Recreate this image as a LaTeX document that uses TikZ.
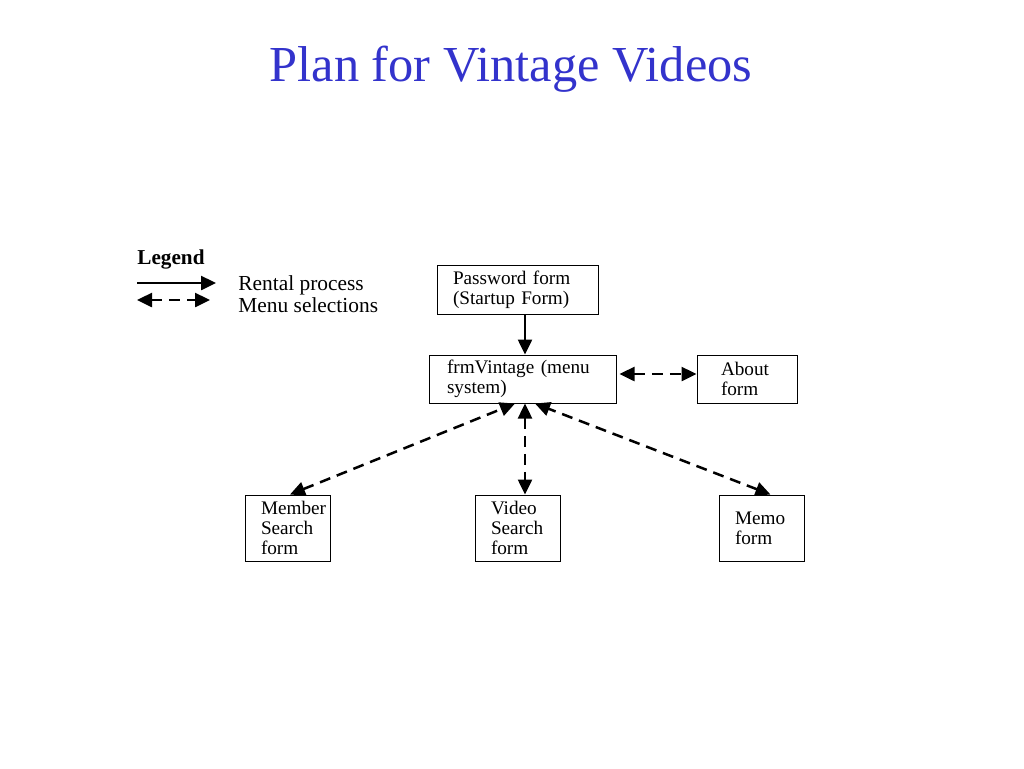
\documentclass[tikz,border=0pt]{standalone}
\usepackage{fontspec}
\setmainfont{Liberation Serif}
\usetikzlibrary{arrows.meta,positioning}
\definecolor{titleblue}{RGB}{51,51,204}

\begin{document}
\begin{tikzpicture}[x=0.5pt,y=-0.5pt,
    >={Triangle[length=7.5pt,width=7pt]},
    form/.style={draw, line width=0.5pt, align=left, inner xsep=8pt, inner ysep=0pt,
      font=\fontsize{9.6}{10}\selectfont},
    rent/.style={->, line width=1.25pt},
    menu/.style={<->, line width=1.25pt, dash pattern=on 5.5pt off 3.5pt}]
      \useasboundingbox (0,0) rectangle (1024,768);
      \node[anchor=base, text=titleblue, font=\fontsize{25.2}{30}\selectfont] (title) at (511,81) {Plan for Vintage Videos};

      % legend
      \node[anchor=west, inner sep=0pt, font=\fontsize{10.6}{12}\selectfont\bfseries] (legend) at (137,259) {Legend};
      \coordinate (rentA) at (137,283);
      \coordinate (rentB) at (216,283);
      \coordinate (menuA) at (137,300);
      \coordinate (menuB) at (210,300);
      \draw[rent] (rentA) -- (rentB);
      \draw[menu] (menuA) -- (menuB);
      \node[anchor=west, inner sep=0pt, font=\fontsize{10.7}{12}\selectfont] (rentlbl) at (238,285.5) {Rental process};
      \node[anchor=west, inner sep=0pt, font=\fontsize{10.7}{12}\selectfont] (menulbl) at (238,305) {Menu selections};

      % forms
      \node[form, text width=64.5pt, minimum height=24.5pt] (pw) at (517.5,290) {Password form\\(Startup Form)};
      \node[form, inner xsep=9pt, text width=75.5pt, minimum height=24pt] (vint) at (522.5,379) {frmVintage (menu system)};
      \node[form, inner xsep=12pt, text width=26pt, minimum height=24pt] (about) at (747,379) {About\\form};
      \node[form, text width=26.5pt, minimum height=33pt] (member) at (287.5,528) {Member\\Search\\form};
      \node[form, text width=26.5pt, minimum height=33pt] (video) at (517.5,528) {Video\\Search\\form};
      \node[form, text width=26.5pt, minimum height=33pt] (memo) at (761.5,528) {Memo\\form};

      \draw[rent] ([xshift=3.75pt]pw.south) -- ([xshift=1.25pt]vint.north);
      \draw[menu] ([xshift=1.5pt,yshift=2.5pt]vint.east) -- ([yshift=2.5pt]about.west);
      \draw[menu] ([xshift=1.25pt]member.north) -- ([xshift=-3.75pt]vint.south);
      \draw[menu] ([xshift=1.25pt]vint.south) -- ([xshift=3.75pt]video.north);
      \draw[menu] ([xshift=4.5pt]memo.north) -- ([xshift=6.25pt]vint.south);
    \end{tikzpicture}
\end{document}
